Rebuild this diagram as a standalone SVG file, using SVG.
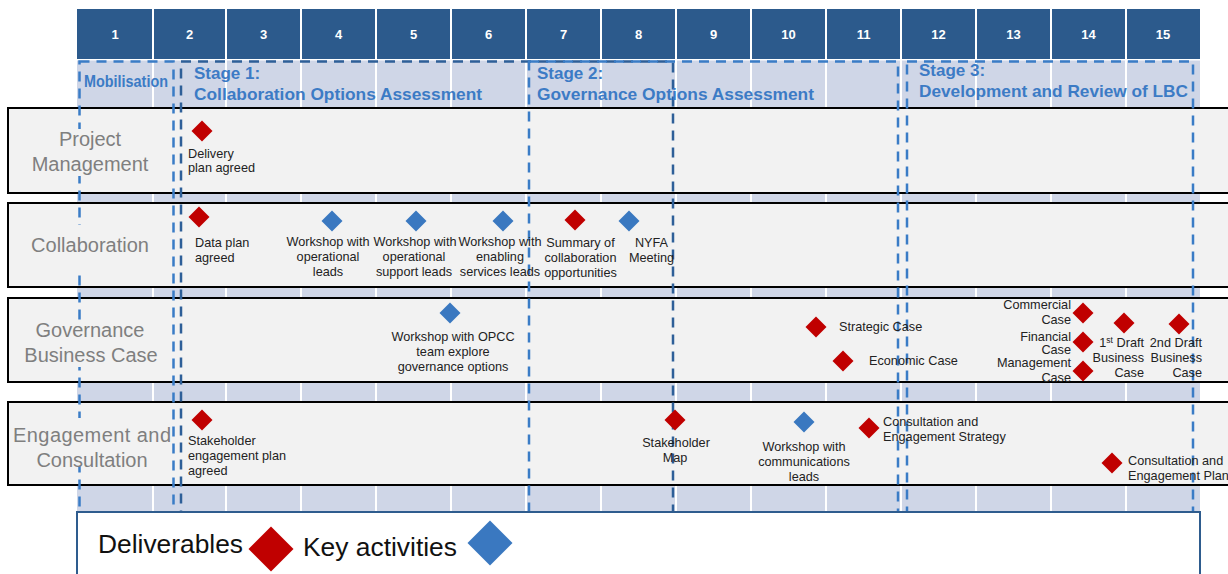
<svg xmlns="http://www.w3.org/2000/svg" xmlns:xlink="http://www.w3.org/1999/xlink" width="1228" height="574" viewBox="0 0 1228 574">
<defs>
<style>
.hd{fill:#2C5A8C}
.lt{fill:#CFD6E7}
.num{font-family:"Liberation Sans",Arial,sans-serif;font-weight:bold;font-size:13px;fill:#fff;text-anchor:middle}
.row{fill:#F2F2F2;stroke:#000;stroke-width:2}
.lbx{fill:#F2F2F2}
.lbl{font-family:"Liberation Sans",Arial,sans-serif;font-size:20px;fill:#7F7F7F;text-anchor:middle}
.stg{font-family:"Liberation Sans",Arial,sans-serif;font-weight:bold;font-size:17px;fill:#3C7BC5}
.dl{fill:none;stroke:#3A7CC6;stroke-width:2.5;stroke-dasharray:10 7}
.dd{fill:none;stroke:#2E5F98;stroke-width:2.5;stroke-dasharray:10 7}
.t{font-family:"Liberation Sans",Arial,sans-serif;font-size:12.7px;fill:#222}
.m{text-anchor:middle}
.e{text-anchor:end}
.red{fill:#C00000}
.blue{fill:#3A78C0}
.leg{font-family:"Liberation Sans",Arial,sans-serif;font-size:25px;fill:#111}
</style>
<path id="dia" d="M0,-10.5 L10.5,0 L0,10.5 L-10.5,0Z"/>
<path id="bigdia" d="M0,-22.5 L22.5,0 L0,22.5 L-22.5,0Z"/>
</defs>
<rect width="1228" height="574" fill="#fff"/>
<g id="header">
<rect class="hd" x="77" y="9" width="75" height="50"/>
<rect class="hd" x="154" y="9" width="71" height="50"/>
<rect class="hd" x="227" y="9" width="73" height="50"/>
<rect class="hd" x="302" y="9" width="73" height="50"/>
<rect class="hd" x="377" y="9" width="73" height="50"/>
<rect class="hd" x="452" y="9" width="73" height="50"/>
<rect class="hd" x="527" y="9" width="73" height="50"/>
<rect class="hd" x="602" y="9" width="73" height="50"/>
<rect class="hd" x="677" y="9" width="73" height="50"/>
<rect class="hd" x="752" y="9" width="73" height="50"/>
<rect class="hd" x="827" y="9" width="73" height="50"/>
<rect class="hd" x="902" y="9" width="73" height="50"/>
<rect class="hd" x="977" y="9" width="73" height="50"/>
<rect class="hd" x="1052" y="9" width="73" height="50"/>
<rect class="hd" x="1127" y="9" width="73" height="50"/>
<text class="num" x="115" y="39">1</text>
<text class="num" x="189.5" y="39">2</text>
<text class="num" x="263.5" y="39">3</text>
<text class="num" x="338.5" y="39">4</text>
<text class="num" x="413.5" y="39">5</text>
<text class="num" x="488.5" y="39">6</text>
<text class="num" x="563.5" y="39">7</text>
<text class="num" x="638.5" y="39">8</text>
<text class="num" x="713.5" y="39">9</text>
<text class="num" x="788.5" y="39">10</text>
<text class="num" x="863.5" y="39">11</text>
<text class="num" x="938.5" y="39">12</text>
<text class="num" x="1013.5" y="39">13</text>
<text class="num" x="1088.5" y="39">14</text>
<text class="num" x="1163" y="39">15</text>
</g>
<g id="columns">
<rect class="lt" x="77" y="60.5" width="75" height="452"/>
<rect class="lt" x="154" y="60.5" width="71" height="452"/>
<rect class="lt" x="227" y="60.5" width="73" height="452"/>
<rect class="lt" x="302" y="60.5" width="73" height="452"/>
<rect class="lt" x="377" y="60.5" width="73" height="452"/>
<rect class="lt" x="452" y="60.5" width="73" height="452"/>
<rect class="lt" x="527" y="60.5" width="73" height="452"/>
<rect class="lt" x="602" y="60.5" width="73" height="452"/>
<rect class="lt" x="677" y="60.5" width="73" height="452"/>
<rect class="lt" x="752" y="60.5" width="73" height="452"/>
<rect class="lt" x="827" y="60.5" width="73" height="452"/>
<rect class="lt" x="902" y="60.5" width="73" height="452"/>
<rect class="lt" x="977" y="60.5" width="73" height="452"/>
<rect class="lt" x="1052" y="60.5" width="73" height="452"/>
<rect class="lt" x="1127" y="60.5" width="73" height="452"/>
</g>
<g id="lanes">
<rect class="row" x="8" y="108" width="1230" height="85"/>
<rect class="row" x="8" y="203" width="1230" height="84"/>
<rect class="row" x="8" y="298" width="1230" height="84"/>
<rect class="row" x="8" y="402" width="1230" height="83"/>
</g>
<g id="stages">
<rect class="dl" x="79.5" y="61.5" width="94" height="460"/>
<rect class="dd" x="181" y="61.5" width="492" height="460"/>
<rect class="dl" x="529" y="61.5" width="369" height="460"/>
<rect class="dl" x="907" y="61.5" width="286" height="460"/>
<text class="stg" x="84" y="87" font-size="14" textLength="84" lengthAdjust="spacingAndGlyphs">Mobilisation</text>
<text class="stg" x="194" y="79">Stage 1:</text>
<text class="stg" x="194" y="100" textLength="288" lengthAdjust="spacingAndGlyphs">Collaboration Options Assessment</text>
<text class="stg" x="537" y="79">Stage 2:</text>
<text class="stg" x="537" y="100" textLength="277" lengthAdjust="spacingAndGlyphs">Governance Options Assessment</text>
<text class="stg" x="919" y="76">Stage 3:</text>
<text class="stg" x="919" y="97" textLength="269" lengthAdjust="spacingAndGlyphs">Development and Review of LBC</text>
</g>
<g id="lane-labels">
<rect class="lbx" x="10" y="129" width="160" height="47"/>
<rect class="lbx" x="10" y="225" width="160" height="45"/>
<rect class="lbx" x="10" y="320" width="160" height="47"/>
<rect class="lbx" x="10" y="418" width="160" height="48"/>
<text class="lbl" x="90" y="146">Project</text>
<text class="lbl" x="90" y="171">Management</text>
<text class="lbl" x="90" y="252">Collaboration</text>
<text class="lbl" x="90" y="337">Governance</text>
<text class="lbl" x="91" y="362">Business Case</text>
<text class="lbl" x="92" y="442" textLength="158" lengthAdjust="spacing">Engagement and</text>
<text class="lbl" x="92" y="467">Consultation</text>
</g>
<g id="pm-delivery">
<use href="#dia" x="202" y="131" class="red"/>
<text class="t" x="188" y="158">Delivery</text>
<text class="t" x="188" y="172">plan agreed</text>
</g>
<g id="collab-data">
<use href="#dia" x="199" y="217" class="red"/>
<text class="t" x="195" y="247">Data plan</text>
<text class="t" x="195" y="262">agreed</text>
</g>
<g id="collab-ws-op">
<use href="#dia" x="332" y="221" class="blue"/>
<text class="t m" x="328" y="246">Workshop with</text>
<text class="t m" x="328" y="261">operational</text>
<text class="t m" x="328" y="276">leads</text>
</g>
<g id="collab-ws-sup">
<use href="#dia" x="416" y="221" class="blue"/>
<text class="t m" x="415" y="246">Workshop with</text>
<text class="t m" x="414" y="261">operational</text>
<text class="t m" x="414" y="276">support leads</text>
</g>
<g id="collab-ws-en">
<use href="#dia" x="503" y="221" class="blue"/>
<text class="t m" x="500" y="246">Workshop with</text>
<text class="t m" x="500" y="261">enabling</text>
<text class="t m" x="500" y="276">services leads</text>
</g>
<g id="collab-summary">
<use href="#dia" x="575" y="220" class="red"/>
<text class="t m" x="580.5" y="247">Summary of</text>
<text class="t m" x="580.5" y="262">collaboration</text>
<text class="t m" x="580.5" y="277">opportunities</text>
</g>
<g id="collab-nyfa">
<use href="#dia" x="629" y="221" class="blue"/>
<text class="t m" x="651.5" y="247">NYFA</text>
<text class="t m" x="651.5" y="262">Meeting</text>
</g>
<g id="gov-ws">
<use href="#dia" x="450" y="313" class="blue"/>
<text class="t m" x="453" y="341">Workshop with OPCC</text>
<text class="t m" x="453" y="356">team explore</text>
<text class="t m" x="453" y="371">governance options</text>
</g>
<g id="gov-strategic">
<use href="#dia" x="816" y="327" class="red"/>
<text class="t" x="839" y="331">Strategic Case</text>
</g>
<g id="gov-economic">
<use href="#dia" x="843" y="361" class="red"/>
<text class="t" x="869" y="365">Economic Case</text>
</g>
<g id="gov-commercial">
<use href="#dia" x="1083" y="313" class="red"/>
<text class="t e" x="1071" y="309">Commercial</text>
<text class="t e" x="1071" y="323.5">Case</text>
</g>
<g id="gov-financial">
<use href="#dia" x="1083" y="342" class="red"/>
<text class="t e" x="1071" y="340.5">Financial</text>
<text class="t e" x="1071" y="354">Case</text>
</g>
<g id="gov-management">
<use href="#dia" x="1083" y="371" class="red"/>
<text class="t e" x="1071" y="367">Management</text>
<text class="t e" x="1071" y="381.5">Case</text>
</g>
<g id="gov-draft1">
<use href="#dia" x="1124" y="323" class="red"/>
<text class="t e" x="1144" y="347">1<tspan font-size="8.5" dy="-4">st</tspan><tspan dy="4"> Draft</tspan></text>
<text class="t e" x="1144" y="362">Business</text>
<text class="t e" x="1144" y="377">Case</text>
</g>
<g id="gov-draft2">
<use href="#dia" x="1179" y="324" class="red"/>
<text class="t e" x="1202" y="347">2nd Draft</text>
<text class="t e" x="1202" y="362">Business</text>
<text class="t e" x="1202" y="377">Case</text>
</g>
<g id="eng-plan">
<use href="#dia" x="202" y="420" class="red"/>
<text class="t" x="188" y="445">Stakeholder</text>
<text class="t" x="188" y="460">engagement plan</text>
<text class="t" x="188" y="475">agreed</text>
</g>
<g id="eng-map">
<use href="#dia" x="675" y="420" class="red"/>
<text class="t m" x="676" y="447">Stakeholder</text>
<text class="t m" x="675" y="462">Map</text>
</g>
<g id="eng-ws">
<use href="#dia" x="804" y="422" class="blue"/>
<text class="t m" x="804" y="451">Workshop with</text>
<text class="t m" x="804" y="466">communications</text>
<text class="t m" x="804" y="481">leads</text>
</g>
<g id="eng-strategy">
<use href="#dia" x="869" y="428" class="red"/>
<text class="t" x="883" y="426">Consultation and</text>
<text class="t" x="883" y="441">Engagement Strategy</text>
</g>
<g id="eng-cplan">
<use href="#dia" x="1112" y="463" class="red"/>
<text class="t" x="1128" y="465">Consultation and</text>
<text class="t" x="1128" y="480">Engagement Plan</text>
</g>
<g id="connectors"></g>
<g id="legend">
<rect x="77" y="512" width="1123" height="80" fill="#fff" stroke="#2E5C8E" stroke-width="2"/>
<text class="leg" x="98" y="553" textLength="145" lengthAdjust="spacingAndGlyphs">Deliverables</text>
<use href="#bigdia" x="271" y="549" class="red"/>
<text class="leg" x="303" y="556" textLength="154" lengthAdjust="spacingAndGlyphs">Key activities</text>
<use href="#bigdia" x="490" y="543" class="blue"/>
</g>
</svg>
